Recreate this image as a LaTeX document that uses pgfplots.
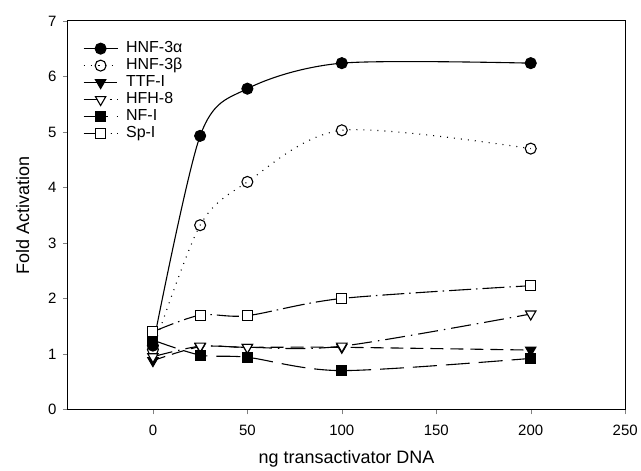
\documentclass[border=0pt]{standalone}
\usepackage{fontspec}
\setmainfont{Liberation Sans}
\usepackage{pgfplots}
\pgfplotsset{compat=1.18}

\begin{document}
\begin{tikzpicture}
\begin{axis}[scale only axis,width=558pt,height=389pt,
 xmin=-45,xmax=250,ymin=0,ymax=7,
 xtick={0,50,100,150,200,250},ytick={0,1,...,7},
 xtick pos=left,ytick pos=left,tick align=outside,major tick length=5pt,
 tick label style={font=\fontsize{15}{17}\selectfont},
 yticklabel style={xshift=-3pt},
 xticklabel style={yshift=-7pt},
 /pgf/number format/assume math mode=true,
 label style={font=\fontsize{18}{20}\selectfont},
 xlabel={ng transactivator DNA},ylabel={Fold Activation},
 xlabel style={yshift=-8pt},ylabel style={yshift=12pt},
 axis line style={line width=1pt},
 every axis plot/.append style={line width=1.1pt,smooth,tension=0.5},
 every axis plot post/.append style={/pgfplots/legend image code/.code={%
  \draw[mark repeat=2,mark phase=2,##1]
   plot coordinates {(0pt,0pt) (17pt,0pt) (34pt,0pt)};}},
 legend style={at={(rel axis cs:0,1)},anchor=north west,xshift=12pt,yshift=-17pt,
  draw=none,fill=none,row sep=0pt,column sep=7pt,
  nodes={inner sep=1pt,text height=11.5pt,text depth=3.5pt,
   font=\fontsize{16}{17}\selectfont}},
 legend cell align=left,
 clip=false]
% HNF-3alpha
\addplot[black,solid,mark=*,mark size=5.5pt] coordinates
 {(0,1.15) (25,4.93) (50,5.78) (100,6.24) (200,6.24)};
% HNF-3beta
\addplot[black,dash pattern=on 1pt off 6pt,mark=o,mark size=5.5pt,mark options={solid,fill=white}] coordinates
 {(0,1.08) (25,3.32) (50,4.10) (100,5.03) (200,4.70)};
% TTF-I
\addplot[black,dash pattern=on 13pt off 7pt,mark=triangle*,mark size=6pt,mark options={solid,rotate=180}] coordinates
 {(0,0.88) (25,1.13) (50,1.12) (100,1.12) (200,1.07)};
% HFH-8
\addplot[black,dash pattern=on 20pt off 6pt on 1.5pt off 6pt,mark=triangle*,mark size=6pt,mark options={solid,rotate=180,fill=white}] coordinates
 {(0,0.95) (25,1.14) (50,1.12) (100,1.14) (200,1.72)};
% NF-I
\addplot[black,dash pattern=on 24pt off 9pt,mark=square*,mark size=5pt,mark options={solid}] coordinates
 {(0,1.25) (25,0.98) (50,0.94) (100,0.70) (200,0.92)};
% Sp-I
\addplot[black,dash pattern=on 22pt off 5pt on 1.5pt off 5pt,mark=square*,mark size=5pt,mark options={solid,fill=white}] coordinates
 {(0,1.40) (25,1.70) (50,1.69) (100,2.00) (200,2.23)};
\legend{HNF-3α,HNF-3β,TTF-I,HFH-8,NF-I,Sp-I}
\coordinate (ll) at (rel axis cs:0,0);
\coordinate (ur) at (rel axis cs:1,1);
\end{axis}
\path ([shift={(-68pt,-58pt)}]ll) rectangle ([shift={(15pt,21pt)}]ur);
\end{tikzpicture}
\end{document}
